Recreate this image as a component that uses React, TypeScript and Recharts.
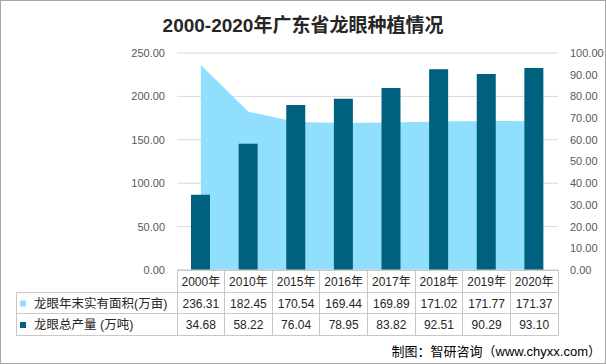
import React from "react";
import {
  Area,
  Bar,
  CartesianGrid,
  ComposedChart,
  XAxis,
  YAxis,
} from "recharts";

// Guangdong longan planting, 2000-2020: area (left axis) + output (right axis)
// with an Excel-style data table under the category axis.

const TITLE = "2000-2020年广东省龙眼种植情况";
const SOURCE = "制图：智研咨询（www.chyxx.com）";

const YEARS = ["2000年", "2010年", "2015年", "2016年", "2017年", "2018年", "2019年", "2020年"];
const AREA_NAME = "龙眼年末实有面积(万亩)";
const AREA_VALUES = [236.31, 182.45, 170.54, 169.44, 169.89, 171.02, 171.77, 171.37];
const OUTPUT_NAME = "龙眼总产量 (万吨)";
const OUTPUT_VALUES = [34.68, 58.22, 76.04, 78.95, 83.82, 92.51, 90.29, 93.1];

const LEFT_TICKS = [0, 50, 100, 150, 200, 250];
const RIGHT_TICKS = [0, 10, 20, 30, 40, 50, 60, 70, 80, 90, 100];

const W = 606;
const H = 364;
const PLOT_LEFT = 177;
const PLOT_RIGHT = 558;
const PLOT_TOP = 53;
const PLOT_BOTTOM = 270;
const ROW1 = 292; // end of year row
const ROW2 = 313; // end of area row
const ROW3 = 335; // end of output row
const TABLE_LEFT = 16;

const AREA_COLOR = "#8fdffd";
const BAR_COLOR = "#00617f";
const BORDER = "#c8c8c8";
const FONT = '"Liberation Sans", "Noto Sans CJK SC", sans-serif';

const data = YEARS.map((year, i) => ({
  year,
  area: AREA_VALUES[i],
  output: OUTPUT_VALUES[i],
}));

const fmt = (v: number) => v.toFixed(2);

function TableTick(props: any) {
  const { x, payload, index } = props;
  const half =
    payload?.offset > 0 ? payload.offset : (PLOT_RIGHT - PLOT_LEFT) / YEARS.length / 2;
  const i = typeof index === "number" ? index : YEARS.indexOf(payload.value);
  const left = x - half;
  const w = half * 2;
  const textProps = {
    x,
    textAnchor: "middle" as const,
    dominantBaseline: "central" as const,
    fontSize: 12,
    fill: "#262626",
    fontFamily: FONT,
  };
  return (
    <g>
      <rect x={left} y={PLOT_BOTTOM} width={w} height={ROW1 - PLOT_BOTTOM} fill="none" stroke={BORDER} shapeRendering="crispEdges" />
      <rect x={left} y={ROW1} width={w} height={ROW2 - ROW1} fill="none" stroke={BORDER} shapeRendering="crispEdges" />
      <rect x={left} y={ROW2} width={w} height={ROW3 - ROW2} fill="none" stroke={BORDER} shapeRendering="crispEdges" />
      <text {...textProps} y={(PLOT_BOTTOM + ROW1) / 2 + 1}>
        {payload.value}
      </text>
      <text {...textProps} y={(ROW1 + ROW2) / 2 + 1}>
        {fmt(AREA_VALUES[i])}
      </text>
      <text {...textProps} y={(ROW2 + ROW3) / 2 + 1}>
        {fmt(OUTPUT_VALUES[i])}
      </text>
    </g>
  );
}

export default function App() {
  const axisTick = { fontSize: 11, fill: "#595959", fontFamily: FONT };
  return (
    <div style={{ position: "fixed", left: 0, top: 0, width: W, height: H, background: "#fff" }}>
      <ComposedChart
        width={W}
        height={H}
        data={data}
        margin={{ top: PLOT_TOP, right: 0, bottom: H - ROW3 - 1, left: 0 }}
      >
        <CartesianGrid yAxisId="left" vertical={false} stroke="#d9d9d9" />
        <XAxis
          dataKey="year"
          xAxisId={0}
          interval={0}
          tickLine={false}
          axisLine={{ stroke: "#d9d9d9" }}
          height={ROW3 - PLOT_BOTTOM + 1}
          tick={<TableTick />}
        />
        <YAxis
          yAxisId="left"
          orientation="left"
          width={PLOT_LEFT}
          domain={[0, 250]}
          ticks={LEFT_TICKS}
          tickFormatter={fmt}
          tickLine={false}
          axisLine={false}
          tickMargin={6}
          tick={axisTick}
        />
        <YAxis
          yAxisId="right"
          orientation="right"
          width={W - PLOT_RIGHT}
          domain={[0, 100]}
          ticks={RIGHT_TICKS}
          tickFormatter={fmt}
          tickLine={false}
          axisLine={false}
          tickMargin={6}
          tick={{ ...axisTick, textAnchor: "start" }}
        />
        <Area
          yAxisId="left"
          type="linear"
          dataKey="area"
          name={AREA_NAME}
          stroke="none"
          fill={AREA_COLOR}
          fillOpacity={1}
          isAnimationActive={false}
          dot={false}
          activeDot={false}
        />
        <Bar
          yAxisId="right"
          dataKey="output"
          name={OUTPUT_NAME}
          fill={BAR_COLOR}
          barSize={19}
          isAnimationActive={false}
        />
      </ComposedChart>

      <svg
        width={W}
        height={H}
        style={{ position: "absolute", left: 0, top: 0, pointerEvents: "none" }}
      >
        <rect x={0.5} y={0.5} width={W - 1} height={H - 1} fill="none" stroke="#a6a6a6" />
        <text
          x={W / 2}
          y={25}
          textAnchor="middle"
          dominantBaseline="central"
          fontSize={19}
          fontWeight="bold"
          fill="#262626"
          fontFamily={FONT}
        >
          {TITLE}
        </text>
        <rect x={TABLE_LEFT} y={ROW1} width={PLOT_LEFT - TABLE_LEFT} height={ROW2 - ROW1} fill="none" stroke={BORDER} shapeRendering="crispEdges" />
        <rect x={TABLE_LEFT} y={ROW2} width={PLOT_LEFT - TABLE_LEFT} height={ROW3 - ROW2} fill="none" stroke={BORDER} shapeRendering="crispEdges" />
        <rect x={20} y={(ROW1 + ROW2) / 2 - 2} width={6} height={6} fill={AREA_COLOR} />
        <rect x={20} y={(ROW2 + ROW3) / 2 - 2} width={6} height={6} fill={BAR_COLOR} />
        <text x={34} y={(ROW1 + ROW2) / 2 + 1} dominantBaseline="central" fontSize={12.5} fill="#262626" fontFamily={FONT}>
          {AREA_NAME}
        </text>
        <text x={34} y={(ROW2 + ROW3) / 2 + 1} dominantBaseline="central" fontSize={12.5} fill="#262626" fontFamily={FONT}>
          {OUTPUT_NAME}
        </text>
        <text
          x={601}
          y={351}
          textAnchor="end"
          dominantBaseline="central"
          fontSize={13}
          fill="#000"
          fontFamily={FONT}
        >
          {SOURCE}
        </text>
      </svg>
    </div>
  );
}
